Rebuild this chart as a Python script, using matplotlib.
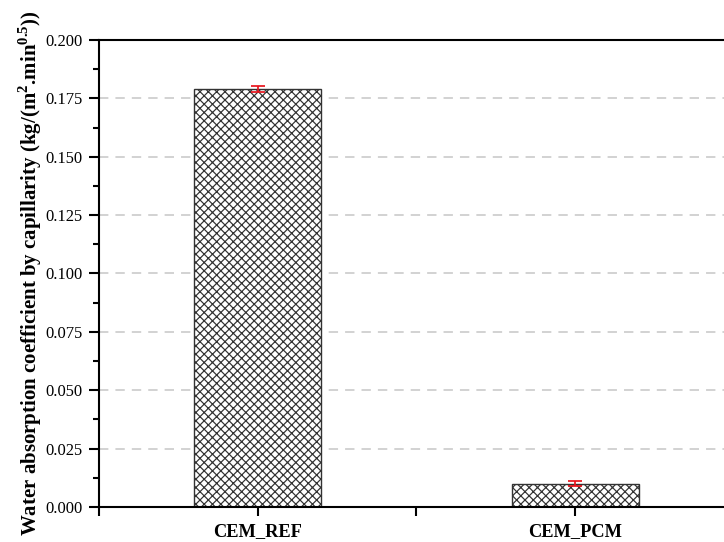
import matplotlib
matplotlib.use("Agg")
import matplotlib.pyplot as plt
from matplotlib.ticker import MultipleLocator, FixedLocator

# capillary water absorption coefficients
samples = ["CEM_REF", "CEM_PCM"]
coef = [0.179, 0.010]
coef_err = [0.0012, 0.0011]

plt.rcParams['font.family'] = ['Liberation Serif', 'DejaVu Serif']
plt.rcParams['mathtext.fontset'] = 'custom'
plt.rcParams['mathtext.rm'] = 'Liberation Serif'
plt.rcParams['mathtext.bf'] = 'Liberation Serif:bold'
plt.rcParams['hatch.linewidth'] = 0.7
plt.rcParams['hatch.color'] = '#1a1a1a'

fig = plt.figure(figsize=(5.792, 4.336), dpi=125)
ax = fig.add_axes([0.1367, 0.0646, 0.877, 0.8616])

xpos = [1, 2]
ax.bar(xpos, coef, width=0.4, color='white', edgecolor='#333333',
       linewidth=0.8, hatch='xxxxx', zorder=2)
ax.errorbar(xpos, coef, yerr=coef_err, fmt='none', ecolor='#e8141c',
            elinewidth=1.0, capsize=4, capthick=1.0, zorder=3)

ax.set_xlim(0.5, 2.5)
ax.set_ylim(0, 0.2)
ax.set_xticks(xpos)
ax.set_xticklabels(samples, fontweight='bold', fontsize=10.6)
ax.xaxis.set_minor_locator(FixedLocator([0.5, 1.5, 2.5]))
ax.yaxis.set_major_locator(MultipleLocator(0.025))
ax.yaxis.set_minor_locator(MultipleLocator(0.0125))
ax.yaxis.set_major_formatter(matplotlib.ticker.FormatStrFormatter('%.3f'))

for y in [0.025, 0.05, 0.075, 0.1, 0.125, 0.15, 0.175]:
    ax.axhline(y, color='#c8c8c8', linewidth=0.9, linestyle=(0, (6, 4.5)), zorder=1)

for s in ['left', 'bottom', 'top']:
    ax.spines[s].set_linewidth(1.2)
ax.spines['right'].set_visible(False)

ax.tick_params(axis='y', which='major', direction='out', length=6, width=1.2,
               labelsize=9.5, pad=3.5)
ax.tick_params(axis='y', which='minor', direction='out', length=3.5, width=1.2)
ax.tick_params(axis='x', which='both', direction='out', length=5, width=1.2, pad=4)

ax.set_ylabel(r'Water absorption coefficient by capillarity (kg/(m$^\mathbf{2}$.min$^\mathbf{0.5}$))',
              fontweight='bold', fontsize=12)
ax.yaxis.set_label_coords(-0.086, 0.5)

fig.savefig('out.png', dpi=125)
